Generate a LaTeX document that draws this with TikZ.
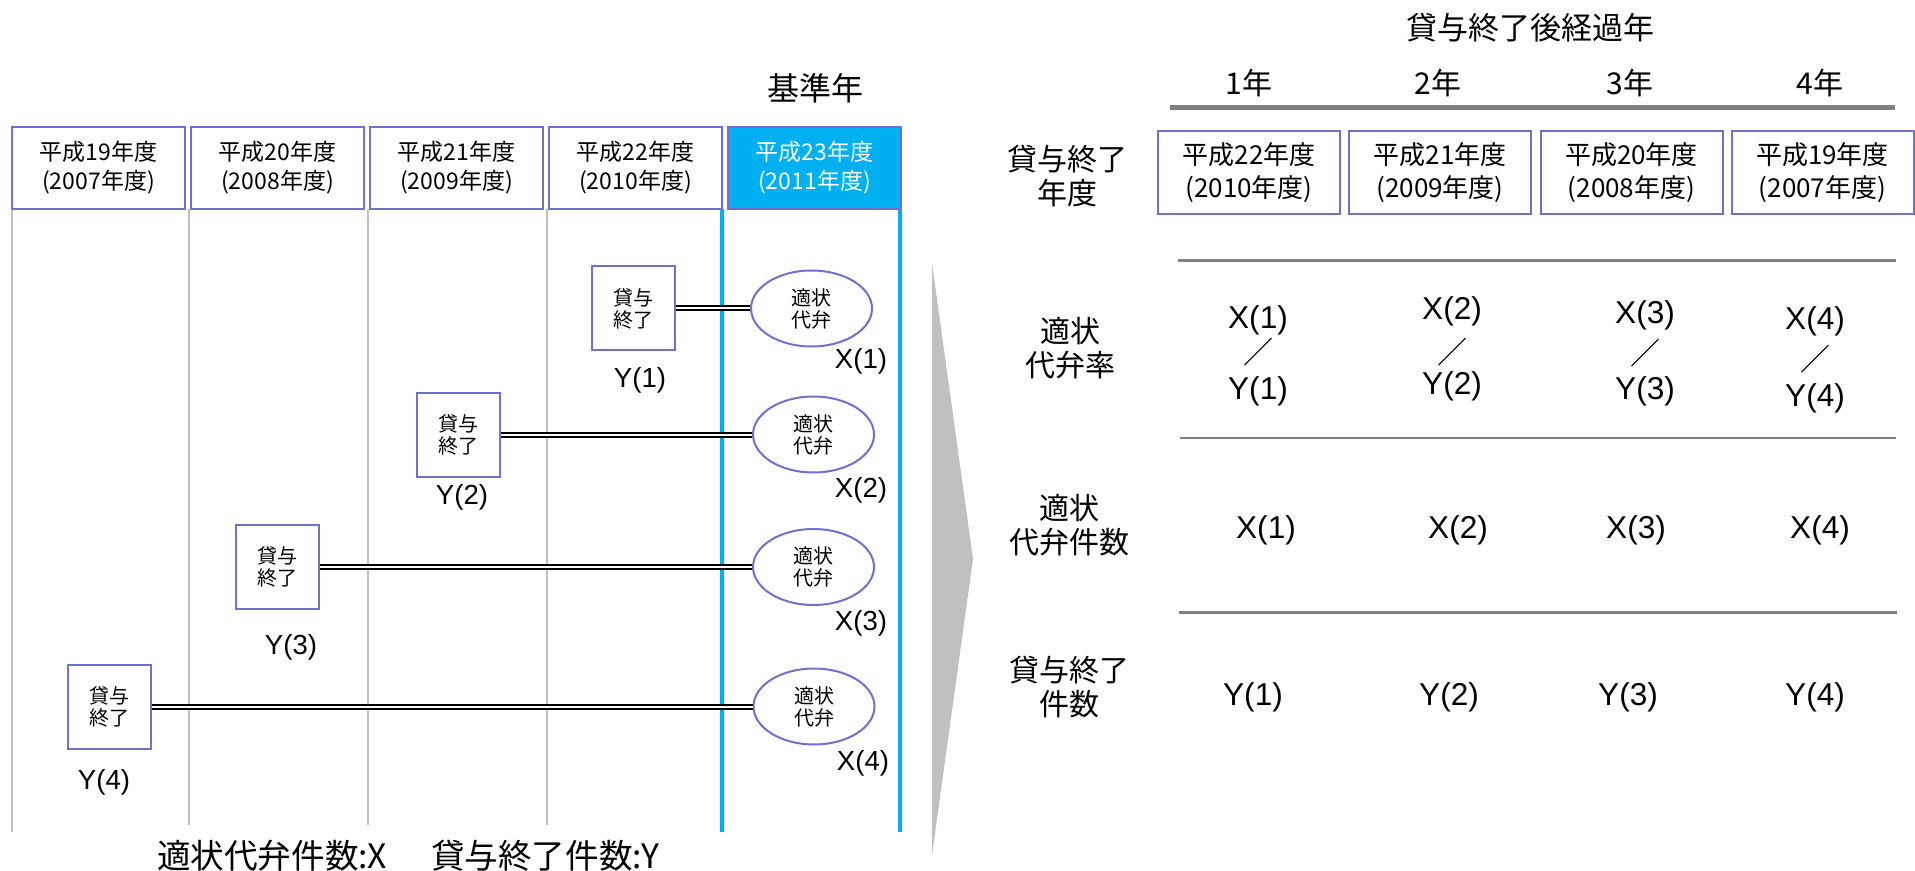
\documentclass[tikz,border=0pt]{standalone}
\usepackage{fontspec}
\setmainfont{Liberation Sans}
\newfontfamily\jp{Noto Sans CJK JP}
\usetikzlibrary{shapes.geometric}
\definecolor{bord}{RGB}{112,112,210}
\definecolor{cyanb}{RGB}{0,176,240}
\definecolor{lgray}{RGB}{192,192,192}
\definecolor{dgray}{RGB}{128,128,128}
\tikzset{
  yearbox/.style={draw=bord, line width=1pt, minimum width=86.5pt, minimum height=41pt, inner sep=0pt, align=center, font=\jp\fontsize{11.5}{14.5}\selectfont},
  ryearbox/.style={yearbox, minimum width=91pt, minimum height=41.5pt, font=\jp\fontsize{13}{16.5}\selectfont},
  endbox/.style={draw=bord, line width=1pt, minimum width=41.5pt, minimum height=42pt, inner sep=0pt, align=center, font=\jp\fontsize{10}{11}\selectfont},
  repay/.style={ellipse, draw=bord, line width=1pt, minimum width=60.5pt, minimum height=38pt, inner sep=0pt, align=center, font=\jp\fontsize{10}{11}\selectfont},
  lbl/.style={inner sep=0pt, font=\fontsize{13.8}{15}\selectfont},
  val/.style={inner sep=0pt, font=\fontsize{15.8}{18}\selectfont},
  slash/.style={inner sep=0pt, font=\jp\fontsize{15}{16}\selectfont},
  head/.style={inner sep=0pt, align=center, font=\jp\fontsize{15}{17}\selectfont},
  dbl/.style={double, double distance=1pt, line width=1pt},
  vgrid/.style={draw=lgray, line width=1pt},
  vblue/.style={draw=cyanb, line width=2pt},
}
\begin{document}
\begin{tikzpicture}[x=0.5pt,y=-0.5pt]
\useasboundingbox (0,0) rectangle (1915,871);

% ---- left: vertical grid lines ----
\draw[vgrid] (12,209) -- (12,832);
\draw[vgrid] (189,209) -- (189,825);
\draw[vgrid] (368,209) -- (368,825);
\draw[vgrid] (547,209) -- (547,825);
\draw[vblue] (721.5,209) -- (721.5,832);
\draw[vblue] (899.5,209) -- (899.5,832);

% ---- left: year boxes ----
\node[head, font=\jp\fontsize{16}{18}\selectfont] (base) at (815,88) {基準年};
\node[yearbox, fill=white] (y19) at (98.5,168) {平成19年度\\(2007年度)};
\node[yearbox, fill=white] (y20) at (277.5,168) {平成20年度\\(2008年度)};
\node[yearbox, fill=white] (y21) at (456.5,168) {平成21年度\\(2009年度)};
\node[yearbox, fill=white] (y22) at (635.5,168) {平成22年度\\(2010年度)};
\node[yearbox, fill=cyanb, text=white] (y23) at (814.5,168) {平成23年度\\(2011年度)};

% ---- left: loan end boxes and repayment ellipses ----
\node[endbox, fill=white] (s1) at (633.5,308.5) {貸与\\終了};
\node[repay, fill=white] (e1) at (811.5,308.5) {適状\\代弁};
\node[endbox, fill=white] (s2) at (458,434.5) {貸与\\終了};
\node[repay, fill=white] (e2) at (813.5,434.5) {適状\\代弁};
\node[endbox, fill=white] (s3) at (277,567) {貸与\\終了};
\node[repay, fill=white] (e3) at (813.5,567) {適状\\代弁};
\node[endbox, fill=white] (s4) at (109.5,706.5) {貸与\\終了};
\node[repay, fill=white] (e4) at (814,706.5) {適状\\代弁};

\draw[dbl] (s1.east) -- (e1.west);
\draw[dbl] (s2.east) -- (e2.west);
\draw[dbl] (s3.east) -- (e3.west);
\draw[dbl] (s4.east) -- (e4.west);

\node[lbl] (ly1) at (640,380) {Y(1)};
\node[lbl] (lx1) at (861,361) {X(1)};
\node[lbl] (ly2) at (462,497) {Y(2)};
\node[lbl] (lx2) at (861,490) {X(2)};
\node[lbl] (ly3) at (291,647) {Y(3)};
\node[lbl] (lx3) at (861,623) {X(3)};
\node[lbl] (ly4) at (104,782) {Y(4)};
\node[lbl] (lx4) at (863,763) {X(4)};

\node[inner sep=0pt, font=\jp\fontsize{16.8}{18}\selectfont] (legend) at (408,856) {適状代弁件数:X\hspace{22pt}貸与終了件数:Y};

% ---- big arrow ----
\fill[lgray] (932,263) -- (973,559) -- (932,855) -- cycle;

% ---- right table ----
\node[head, font=\jp\fontsize{15.5}{18}\selectfont] (hdr) at (1530,28) {貸与終了後経過年};
\node[head] (n1) at (1249,83) {1年};
\node[head] (n2) at (1438,83) {2年};
\node[head] (n3) at (1630,83) {3年};
\node[head] (n4) at (1820,83) {4年};
\draw[dgray, line width=2.25pt] (1170,107.5) -- (1895,107.5);

\node[head] (r0) at (1067,176) {貸与終了\\年度};
\node[ryearbox] (r22) at (1249,172.5) {平成22年度\\(2010年度)};
\node[ryearbox] (r21) at (1440,172.5) {平成21年度\\(2009年度)};
\node[ryearbox] (r20) at (1631.5,172.5) {平成20年度\\(2008年度)};
\node[ryearbox] (r19) at (1822.5,172.5) {平成19年度\\(2007年度)};

\draw[dgray, line width=1.5pt] (1178,261) -- (1896,261);
\node[head] (r1) at (1070,348) {適状\\代弁率};
\node[val] (fx1) at (1258,320) {X(1)};
\node[slash] (fs1) at (1258,352) {／};
\node[val] (fy1) at (1258,391) {Y(1)};
\node[val] (fx2) at (1452,311) {X(2)};
\node[slash] (fs2) at (1452,352) {／};
\node[val] (fy2) at (1452,386) {Y(2)};
\node[val] (fx3) at (1645,315) {X(3)};
\node[slash] (fs3) at (1645,353) {／};
\node[val] (fy3) at (1645,391) {Y(3)};
\node[val] (fx4) at (1815,321) {X(4)};
\node[slash] (fs4) at (1815,359) {／};
\node[val] (fy4) at (1815,398) {Y(4)};

\draw[dgray, line width=1pt] (1180,437.5) -- (1896,437.5);
\node[head] (r2) at (1069,525) {適状\\代弁件数};
\node[val] (cx1) at (1266,530) {X(1)};
\node[val] (cx2) at (1458,530) {X(2)};
\node[val] (cx3) at (1636,530) {X(3)};
\node[val] (cx4) at (1820,530) {X(4)};

\draw[dgray, line width=1.5pt] (1179,612) -- (1897,612);
\node[head] (r3) at (1069,687) {貸与終了\\件数};
\node[val] (cy1) at (1253,697) {Y(1)};
\node[val] (cy2) at (1449,697) {Y(2)};
\node[val] (cy3) at (1628,697) {Y(3)};
\node[val] (cy4) at (1815,697) {Y(4)};
\end{tikzpicture}
\end{document}
